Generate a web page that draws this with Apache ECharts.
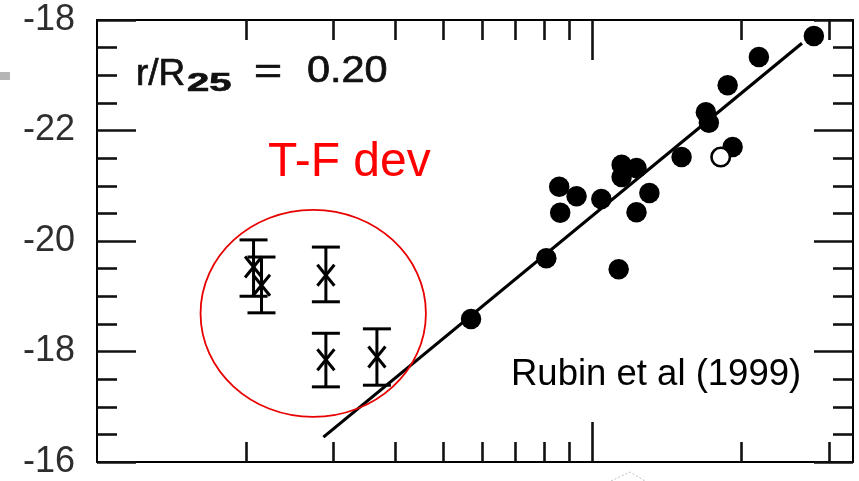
<!DOCTYPE html>
<html>
<head>
<meta charset="utf-8">
<script src="https://cdn.jsdelivr.net/npm/echarts@6/dist/echarts.min.js"></script>
<style>
  html, body { margin: 0; padding: 0; background: #fff; }
  #chart { width: 859px; height: 481px; }
</style>
</head>
<body>
<div id="chart"></div>
<script>
// Sa galaxies: log10 of rotation velocity and absolute magnitude
const galaxyLogV = [1.755, 1.907, 1.933, 1.935, 1.968, 2.018, 2.053, 2.059, 2.059, 2.089,
                    2.115, 2.089, 2.180, 2.229, 2.235, 2.273, 2.283, 2.336, 2.447];
const galaxyMag  = [-18.59, -19.69, -20.98, -20.51, -20.81, -20.76, -19.49, -21.38, -21.16, -21.32,
                    -20.87, -20.52, -21.52, -22.33, -22.14, -22.82, -21.70, -23.33, -23.71];
// the one open-circle galaxy
const openLogV = [2.259];
const openMag  = [-21.52];

// Tully-Fisher relation end points
const fitLogV = [1.457, 2.423];
const fitMag  = [-16.45, -23.58];

// deviant galaxies with magnitude error bars
const devLogV = [1.316, 1.332, 1.462, 1.462, 1.565];
const devMag  = [-19.53, -19.20, -19.38, -17.85, -17.90];
const devTop  = [-20.02, -19.71, -19.89, -18.33, -18.41];
const devBot  = [-19.00, -18.70, -18.90, -17.36, -17.39];

// axis ticks
const yTickValues = [-24, -22, -20, -18, -16];
const yTickLabels = ['-18', '-22', '-20', '-18', '-16'];
const xMinorTickV = [20, 30, 40, 50, 60, 70, 80, 90, 200, 300];
const xMajorTickV = [100];

const FONT = '"Liberation Sans", Arial, Helvetica, sans-serif';
const minorLog = xMinorTickV.map(v => Math.log10(v));
const majorLog = xMajorTickV.map(v => Math.log10(v));

const tickStyle = { color: '#111', width: 2.6 };
function xAxisDef(pos, len, values, withLine) {
  return {
    type: 'value', min: 1.0, max: 2.526, position: pos, gridIndex: 0,
    axisLine: { show: withLine, onZero: false, lineStyle: { color: '#000', width: 2 } },
    axisTick: { show: true, inside: true, length: len, lineStyle: tickStyle, customValues: values },
    axisLabel: { show: false },
    splitLine: { show: false }
  };
}
function yAxisDef(pos, showLabel) {
  return {
    type: 'value', min: -24, max: -16, interval: 2, inverse: true, position: pos,
    axisLine: { show: true, onZero: false, lineStyle: { color: '#000', width: 2 } },
    axisTick: { show: true, inside: true, length: 39, lineStyle: tickStyle },
    minorTick: { show: true, splitNumber: 4, length: 20, lineStyle: tickStyle },
    axisLabel: {
      show: showLabel, fontSize: 36, fontFamily: FONT, color: '#2e2e2e', margin: 22,
      showMinLabel: true, showMaxLabel: true,
      formatter: v => {
        const i = yTickValues.indexOf(Math.round(v));
        return i >= 0 ? yTickLabels[i] : '';
      }
    },
    splitLine: { show: false }
  };
}

const chart = echarts.init(document.getElementById('chart'), null, { renderer: 'canvas' });

const labelInk = { fill: '#111', stroke: '#111', lineWidth: 0.7 };

const option = {
  animation: false,
  backgroundColor: '#fff',
  grid: { left: 97, right: 6, top: 20, bottom: 19, containLabel: false },
  xAxis: [
    xAxisDef('bottom', 20, minorLog, true),
    xAxisDef('bottom', 40, majorLog, false),
    xAxisDef('top', 20, minorLog, true),
    xAxisDef('top', 40, majorLog, false)
  ],
  yAxis: [yAxisDef('left', true), yAxisDef('right', false)],
  series: [
    {
      // red ring around the deviant galaxies, sized from their extent
      type: 'custom', xAxisIndex: 0, yAxisIndex: 0, silent: true, z: 4,
      data: [[devLogV[0], devMag[0]]],
      renderItem: (params, api) => {
        const pts = [];
        devLogV.forEach((v, i) => { pts.push(api.coord([v, devTop[i]])); pts.push(api.coord([v, devBot[i]])); });
        const xs = pts.map(p => p[0]), ys = pts.map(p => p[1]);
        const x0 = Math.min(...xs), x1 = Math.max(...xs), y0 = Math.min(...ys), y1 = Math.max(...ys);
        return {
          type: 'ellipse',
          shape: { cx: (x0 + x1) / 2 - 2, cy: (y0 + y1) / 2, rx: (x1 - x0) / 2 + 51, ry: (y1 - y0) / 2 + 30 },
          style: { stroke: '#e80000', lineWidth: 1.8, fill: null }
        };
      }
    },
    {
      type: 'line', xAxisIndex: 0, yAxisIndex: 0, z: 2,
      data: fitLogV.map((v, i) => [v, fitMag[i]]),
      showSymbol: false, symbol: 'none',
      lineStyle: { color: '#000', width: 3.2 }
    },
    {
      type: 'custom', xAxisIndex: 0, yAxisIndex: 0, z: 3,
      data: devLogV.map((v, i) => [v, devTop[i], devBot[i], devMag[i]]),
      renderItem: (params, api) => {
        const x = api.value(0);
        const pT = api.coord([x, api.value(1)]);
        const pB = api.coord([x, api.value(2)]);
        const pM = api.coord([x, api.value(3)]);
        const cap = 14, ax = 8.5, ay = 10.5;
        const st = { stroke: '#000', lineWidth: 3, fill: null };
        return {
          type: 'group',
          children: [
            { type: 'line', shape: { x1: pT[0], y1: pT[1], x2: pB[0], y2: pB[1] }, style: st },
            { type: 'line', shape: { x1: pT[0] - cap, y1: pT[1], x2: pT[0] + cap, y2: pT[1] }, style: st },
            { type: 'line', shape: { x1: pB[0] - cap, y1: pB[1], x2: pB[0] + cap, y2: pB[1] }, style: st },
            { type: 'line', shape: { x1: pM[0] - ax, y1: pM[1] - ay, x2: pM[0] + ax, y2: pM[1] + ay }, style: st },
            { type: 'line', shape: { x1: pM[0] - ax, y1: pM[1] + ay, x2: pM[0] + ax, y2: pM[1] - ay }, style: st }
          ]
        };
      }
    },
    {
      type: 'scatter', xAxisIndex: 0, yAxisIndex: 0, z: 5,
      data: galaxyLogV.map((v, i) => [v, galaxyMag[i]]),
      symbol: 'circle', symbolSize: 20.5,
      itemStyle: { color: '#000', opacity: 1 }
    },
    {
      type: 'scatter', xAxisIndex: 0, yAxisIndex: 0, z: 5,
      data: openLogV.map((v, i) => [v, openMag[i]]),
      symbol: 'circle', symbolSize: 18.5,
      itemStyle: { color: '#fff', borderColor: '#000', borderWidth: 2.6, opacity: 1 }
    }
  ],
  graphic: [
    { type: 'text', z: 10, x: 136, y: 75, style: Object.assign({ text: 'r/R', font: '37px ' + FONT, textVerticalAlign: 'middle' }, labelInk) },
    { type: 'text', z: 10, x: 187, y: 84, scaleX: 1.6, style: Object.assign({ text: '25', font: 'bold 25px ' + FONT, textVerticalAlign: 'middle' }, labelInk) },
    { type: 'text', z: 10, x: 254, y: 73, scaleX: 1.3, style: Object.assign({ text: '=', font: '37px ' + FONT, textVerticalAlign: 'middle' }, labelInk) },
    { type: 'text', z: 10, x: 307, y: 72, scaleX: 1.12, style: Object.assign({ text: '0.20', font: '37px ' + FONT, textVerticalAlign: 'middle' }, labelInk) },
    { type: 'text', z: 10, x: 268, y: 163, style: { text: 'T-F dev', font: '48px ' + FONT, fill: '#ff0000', textVerticalAlign: 'middle' } },
    { type: 'text', z: 10, x: 511, y: 375, style: { text: 'Rubin et al (1999)', font: '36.5px ' + FONT, fill: '#000', textVerticalAlign: 'middle' } },
    { type: 'rect', z: 10, shape: { x: 0, y: 72, width: 10, height: 8 }, style: { fill: '#b5b5b5' } },
    { type: 'polyline', z: 10, shape: { points: [[611, 481], [630, 472], [645, 481]] }, style: { stroke: '#bdbdbd', lineWidth: 1, lineDash: [2, 2], fill: null } }
  ]
};

chart.setOption(option);
</script>
</body>
</html>
